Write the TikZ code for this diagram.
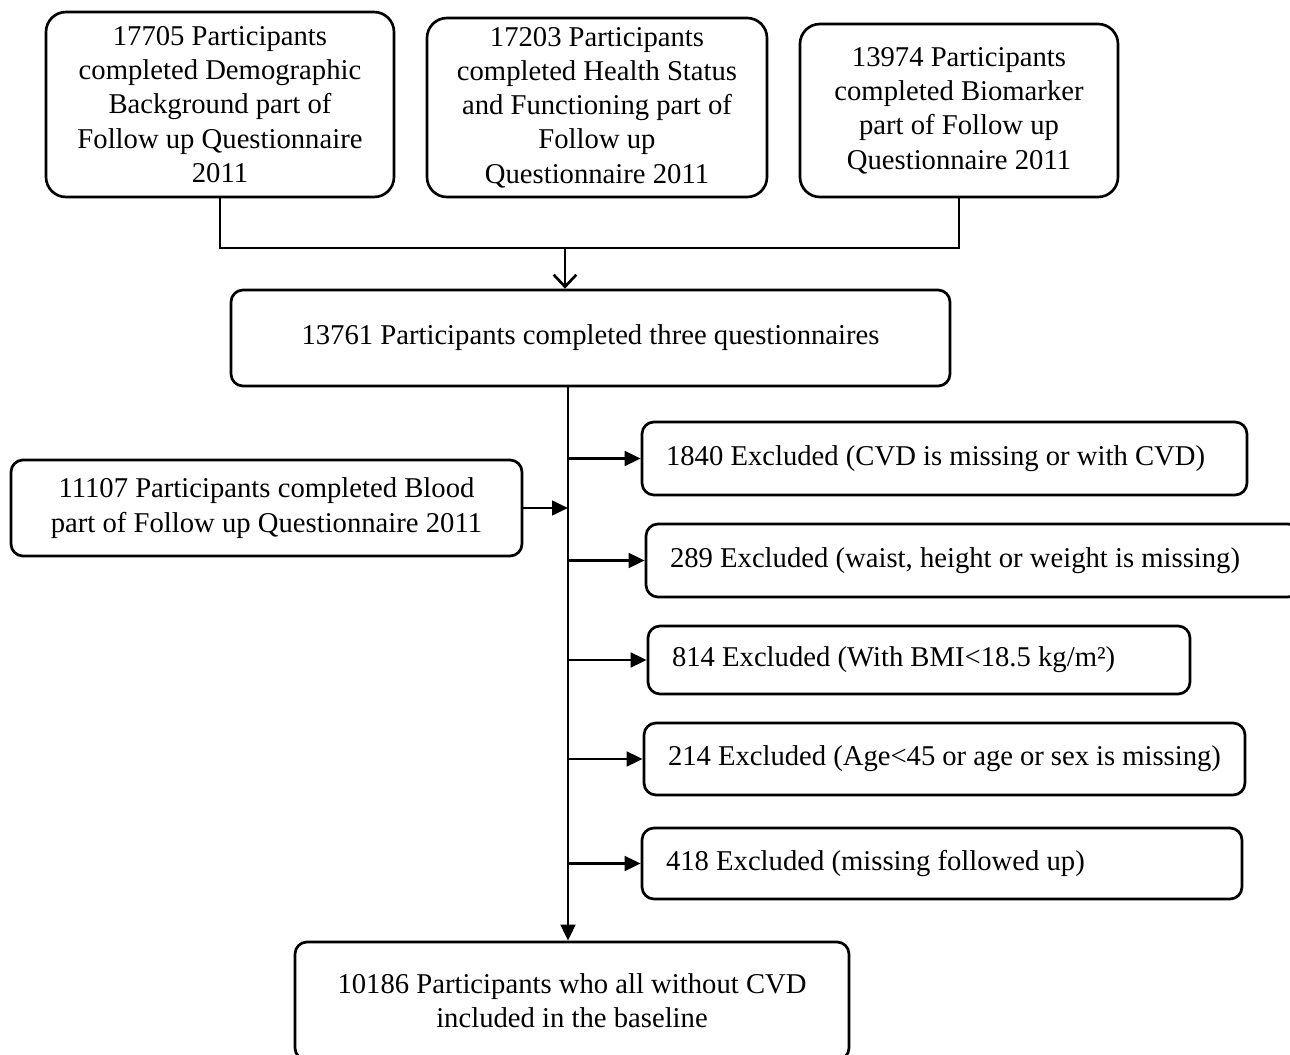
\documentclass[tikz,border=0pt]{standalone}
\usepackage{fontspec}
\setmainfont{Liberation Serif}
\usetikzlibrary{arrows.meta}
\tikzset{
	box/.style={draw, line width=2pt, rounded corners=9pt, inner sep=0pt, align=center, font=\fontsize{21.5}{25.7}\selectfont},
	topbox/.style={box, rounded corners=15pt},
	exbox/.style={box, align=flush left, inner xsep=18pt},
	line/.style={line width=2pt},
	arr/.style={line, -{Triangle[length=12pt, width=11pt]}},
}
\begin{document}
			\begin{tikzpicture}[x=0.75pt, y=-0.75pt]
				\useasboundingbox (0,0) rectangle (1290,1055);
				\node[topbox, minimum width=261pt, minimum height=138.75pt] (A)at(220, 104.5) {17705 Participants\\completed Demographic\\Background part of\\Follow up Questionnaire\\2011};
				\node[topbox, minimum width=255pt, minimum height=134.25pt] (B)at(597, 107.5) {17203 Participants\\completed Health Status\\and Functioning part of\\Follow up\\Questionnaire 2011};
				\node[topbox, minimum width=238.5pt, minimum height=129.75pt] (C)at(959, 110.5) {13974 Participants\\completed Biomarker\\part of Follow up\\Questionnaire 2011};
				\node[box, minimum width=539.25pt, minimum height=72pt] (D)at(590.5, 338) {13761 Participants completed three questionnaires};
				\node[box, minimum width=383.25pt, minimum height=72pt] (E)at(266.5, 508) {11107 Participants completed Blood\\part of Follow up Questionnaire 2011};
				\node[exbox, text width=417.75pt, minimum height=54.75pt] (X1)at(944.5, 458.5) {1840 Excluded (CVD is missing or with CVD)};
				\node[exbox, text width=454.5pt, minimum height=54.75pt] (X2)at(973, 560.5) {289 Excluded (waist, height or weight is missing)};
				\node[exbox, text width=370.5pt, minimum height=51pt] (X3)at(919, 660) {814 Excluded (With BMI<18.5 kg/m²)};
				\node[exbox, text width=414.75pt, minimum height=54pt] (X4)at(944.5, 759) {214 Excluded (Age<45 or age or sex is missing)};
				\node[exbox, text width=414pt, minimum height=53.25pt] (X5)at(942, 863.5) {418 Excluded (missing followed up)};
				\node[box, minimum width=415.5pt, minimum height=88.5pt] (F)at(572, 1001) {10186 Participants who all without CVD\\included in the baseline};
				\coordinate (J)at(565, 248);
				\coordinate (T)at(568, 0);
				\draw[line] (A.south) |- (J) -| (C.south);
				\draw[line, -{Straight Barb[length=9pt, width=17pt]}] (J) -- (D.north -| J);
				\draw[arr] (D.south -| T) -- (F.north -| T);
				\draw[arr] (E.east) -- (E.east -| T);
				\draw[arr] (X1.west -| T) -- (X1.west);
				\draw[arr] (X2.west -| T) -- (X2.west);
				\draw[arr] (X3.west -| T) -- (X3.west);
				\draw[arr] (X4.west -| T) -- (X4.west);
				\draw[arr] (X5.west -| T) -- (X5.west);
			\end{tikzpicture}
\end{document}
